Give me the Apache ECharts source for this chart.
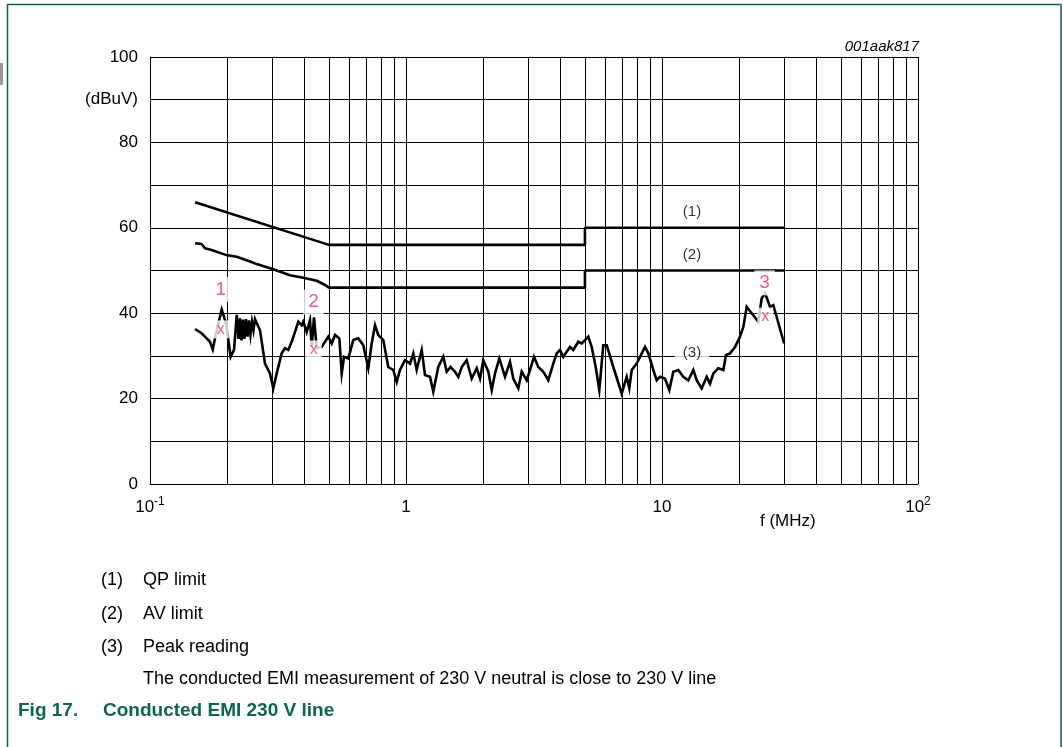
<!DOCTYPE html>
<html><head><meta charset="utf-8">
<script src="https://cdn.jsdelivr.net/npm/echarts@6/dist/echarts.min.js"></script>
<style>html,body{margin:0;padding:0;background:#fff}#c{width:1063px;height:747px}</style>
</head><body><div id="c"></div>
<script>
// ---------- data ----------
const qpLimit = [[0.15,66],[0.5,56],[5,56],[5,60],[30,60]];
const avLimit = [[0.150,56.4],[0.159,56.2],[0.164,55.2],[0.174,54.8],[0.199,53.6],[0.218,53.2],[0.246,52.1],[0.261,51.5],[0.303,50.3],[0.352,48.9],[0.397,48.3],[0.448,47.6],[0.483,46.6],[0.5,46],[5,46],[5,50],[30,50]];
const peakReading = [
[0.150,36.3],[0.159,35.3],[0.1665,34.1],[0.1715,33.3],[0.1758,31.5],[0.1811,35.3],[0.1906,40.9],[0.1981,37.6],[0.2066,29.8],[0.2129,31.4],[0.2182,39.6],
[0.2217,34.0],[0.2247,38.8],[0.2277,33.6],[0.2308,38.5],[0.2339,34.0],[0.2371,38.6],[0.2404,34.5],[0.2436,38.3],[0.2469,35.0],[0.2503,38.0],[0.2537,36.0],[0.2571,38.6],
[0.2611,38.4],[0.2690,36.0],[0.2813,28.2],[0.2942,25.9],[0.3031,22.4],[0.3125,25.9],[0.3269,30.6],[0.3367,31.8],[0.3469,31.4],[0.3577,33.3],[0.3797,38.0],[0.3915,37.2],
[0.3971,38.0],[0.4094,35.6],[0.4217,38.4],[0.4281,32.1],[0.4371,39.0],[0.4479,31.8],[0.4685,32.1],[0.4826,33.3],[0.4972,34.5],[0.5127,32.9],[0.5282,34.9],[0.5490,34.1],
[0.5609,25.9],[0.5727,29.8],[0.5951,29.4],[0.6224,33.7],[0.6511,34.1],[0.6811,32.5],[0.7123,27.1],[0.7345,32.9],[0.7566,37.2],[0.7794,34.9],[0.8152,33.7],[0.8527,27.4],
[0.8920,26.7],[0.9199,23.9],[0.9475,26.7],[0.9911,29.0],[1.037,28.2],[1.068,30.6],[1.101,26.7],[1.152,31.4],[1.186,25.5],[1.241,25.1],[1.278,21.6],[1.337,27.4],
[1.399,29.8],[1.442,26.3],[1.495,27.4],[1.554,26.3],[1.601,25.1],[1.651,27.4],[1.726,29.0],[1.805,24.7],[1.889,27.1],[1.946,24.7],[2.004,29.0],[2.097,26.3],[2.162,22.0],
[2.227,25.9],[2.315,29.4],[2.437,25.1],[2.548,28.6],[2.625,24.7],[2.746,22.4],[2.831,26.3],[2.961,24.3],[3.051,26.7],[3.162,29.8],[3.287,27.4],[3.438,26.3],[3.596,24.3],
[3.761,28.2],[3.878,30.6],[3.995,31.4],[4.116,29.8],[4.243,31.0],[4.371,32.1],[4.503,31.4],[4.710,33.3],[4.856,32.9],[5.003,33.7],[5.154,34.5],[5.314,32.1],[5.508,27.4],
[5.689,22.0],[5.897,32.5],[6.081,32.5],[6.453,27.4],[6.960,21.2],[7.280,25.1],[7.452,22.4],[7.614,26.7],[7.965,28.2],[8.584,32.1],[8.843,30.6],[9.248,26.7],[9.535,24.3],
[9.822,25.1],[10.27,24.7],[10.68,22.0],[11.07,26.3],[11.58,26.7],[12.11,25.1],[12.67,24.3],[13.26,26.7],[13.66,24.3],[14.29,22.4],[14.95,25.1],[15.40,23.5],[15.87,25.9],
[16.59,27.1],[17.36,26.7],[17.78,30.2],[18.44,30.6],[19.29,32.1],[20.04,34.1],[20.78,36.8],[21.42,41.5],[22.41,40.0],[23.78,38.0],[24.52,43.5],[25.26,44.7],[26.42,41.5],
[27.21,41.9],[30.0,32.9]];
const markerPoints = [[0.189,36.2],[0.436,31.5],[25.3,39.2]];
const markerNumbers = [[0.189,45.6,'1'],[0.435,42.6,'2'],[25.15,47.1,'3']];
const curveTags = [[13.1,63.7,'(1)'],[13.1,53.6,'(2)'],[13.1,30.6,'(3)']];
const minorGridF = [0.2,0.3,0.4,0.5,0.6,0.7,0.8,0.9,2,3,4,5,6,7,8,9,20,30,40,50,60,70,80,90];
const yTickLabels = {0:'0',20:'20',40:'40',60:'60',80:'80',90:'(dBuV)',100:'100'};
const notes = [['(1)','QP limit'],['(2)','AV limit'],['(3)','Peak reading'],['','The conducted EMI measurement of 230 V neutral is close to 230 V line']];
const figCaption = ['Fig 17.','Conducted EMI 230 V line'];
const chartCode = '001aak817';
const xAxisTitle = 'f (MHz)';

// ---------- chart ----------
const FONT = '"Liberation Sans", Arial, Helvetica, sans-serif';
const PINK = '#e5306c';
const GREEN = '#0e6450';
const chart = echarts.init(document.getElementById('c'), null, {renderer:'canvas'});

const noteRowsY = [581, 615, 648, 680];
const noteGraphics = [];
notes.forEach((n,i)=>{
  const y = noteRowsY[i];
  if(n[0]) noteGraphics.push({type:'text', left:101, top:y-10, style:{text:n[0], font:'18px '+FONT, fill:'#000'}});
  noteGraphics.push({type:'text', left:143, top:y-10, style:{text:n[1], font:'18px '+FONT, fill:'#000'}});
});

chart.setOption({
  animation:false,
  backgroundColor:'#fff',
  grid:{left:150, right:145, top:57, bottom:263, containLabel:false},
  xAxis:{
    type:'log', logBase:10, min:0.1, max:100,
    axisLine:{show:true, lineStyle:{color:'#000', width:1}},
    axisTick:{show:false},
    splitLine:{show:true, lineStyle:{color:'#000', width:1}},
    axisLabel:{
      margin:12, color:'#000', fontFamily:FONT, fontSize:17,
      formatter:v=>{
        if(Math.abs(v-0.1)<1e-9) return '{b|10}{s|-1}';
        if(Math.abs(v-100)<1e-9) return '{b|10}{s|2}';
        return '{b|'+(v>=1?Math.round(v):v)+'}';
      },
      rich:{b:{fontSize:17, fontFamily:FONT, color:'#000', verticalAlign:'bottom', lineHeight:20},
            s:{fontSize:12, fontFamily:FONT, color:'#000', verticalAlign:'top', lineHeight:20, padding:[0,0,8,0]}}
    }
  },
  yAxis:{
    type:'value', min:0, max:100, interval:10,
    axisLine:{show:true, lineStyle:{color:'#000', width:1}},
    axisTick:{show:false},
    splitLine:{show:true, lineStyle:{color:'#000', width:1}},
    axisLabel:{margin:12, color:'#000', fontFamily:FONT, fontSize:17,
      formatter:v=> (yTickLabels[v]!==undefined ? yTickLabels[v] : '')}
  },
  series:[
    {type:'line', name:'grid', data:[], z:1, silent:true,
     markLine:{silent:true, symbol:['none','none'], label:{show:false},
       lineStyle:{color:'#000', width:1, type:'solid'},
       emphasis:{disabled:true},
       data:minorGridF.map(v=>({xAxis:v}))}},
    {type:'line', name:'QP limit', data:qpLimit, showSymbol:false, symbol:'none', z:3,
     lineStyle:{color:'#000', width:2.6}},
    {type:'line', name:'AV limit', data:avLimit, showSymbol:false, symbol:'none', z:3,
     lineStyle:{color:'#000', width:2.6}},
    {type:'line', name:'Peak reading', data:peakReading, showSymbol:false, symbol:'none', z:4,
     lineStyle:{color:'#000', width:2.6, join:'miter'}},
    {type:'scatter', name:'tags', data:curveTags, symbolSize:0, z:5, silent:true,
     label:{show:true, position:'inside', formatter:p=>p.data[2], color:'#000', fontFamily:FONT, fontSize:15,
       backgroundColor:'#fff', padding:[1,8]}},
    {type:'scatter', name:'markers', data:markerPoints, symbolSize:0, z:6, silent:true,
     label:{show:true, position:'inside', formatter:'x', color:PINK, fontFamily:FONT, fontSize:16,
       backgroundColor:'#fff', padding:[0,4,2,4]}},
    {type:'scatter', name:'markerNums', data:markerNumbers, symbolSize:0, z:6, silent:true,
     label:{show:true, position:'inside', formatter:p=>p.data[2], color:PINK, fontFamily:FONT, fontSize:19,
       backgroundColor:'#fff', padding:[3,5]}}
  ],
  graphic:[
    {type:'line', shape:{x1:7,y1:4.5,x2:1061,y2:4.5}, style:{stroke:GREEN, lineWidth:1.5}},
    {type:'line', shape:{x1:7.5,y1:4,x2:7.5,y2:747}, style:{stroke:GREEN, lineWidth:1.5}},
    {type:'line', shape:{x1:1061,y1:4,x2:1061,y2:747}, style:{stroke:GREEN, lineWidth:1.5}},
    {type:'rect', shape:{x:0,y:63,width:3,height:22}, style:{fill:'#9a9a9a'}},
    {type:'text', right:1063-919, top:39, style:{text:chartCode, font:'italic 15px '+FONT, fill:'#000'}},
    {type:'text', left:760, top:513, style:{text:xAxisTitle, font:'17px '+FONT, fill:'#000'}},
    ...noteGraphics,
    {type:'text', left:18, top:701, style:{text:figCaption[0], font:'bold 19px '+FONT, fill:GREEN}},
    {type:'text', left:103, top:701, style:{text:figCaption[1], font:'bold 19px '+FONT, fill:GREEN}}
  ]
});
</script></body></html>
